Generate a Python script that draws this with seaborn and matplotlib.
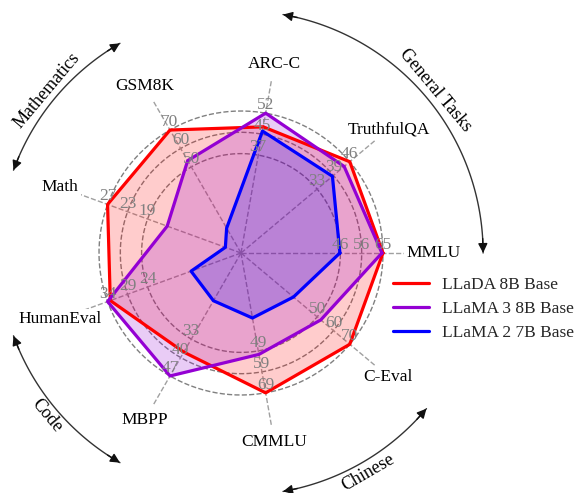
import numpy as np
import pandas as pd
import matplotlib
matplotlib.use("Agg")
import matplotlib.pyplot as plt
import seaborn as sns
from matplotlib.lines import Line2D

# ---------------- data ----------------
categories = ["MMLU", "TruthfulQA", "ARC-C", "GSM8K", "Math",
              "HumanEval", "MBPP", "CMMLU", "C-Eval"]
llada_8b = [65.9, 46.4, 47.9, 70.7, 27.3, 33.5, 38.2, 69.9, 70.5]
llama3_8b = [65.4, 44.0, 53.1, 53.1, 15.1, 34.2, 47.4, 50.7, 51.7]
llama2_7b = [45.9, 39.0, 46.3, 14.3, 3.2, 12.8, 18.4, 32.5, 34.0]
series_names = ["LLaDA 8B Base", "LLaMA 3 8B Base", "LLaMA 2 7B Base"]
axis_max = [65.9, 46.4, 53.1, 70.7, 27.3, 34.2, 47.4, 69.9, 70.5]
tick_labels = [["46", "56", "65"], ["33", "39", "46"], ["37", "45", "52"],
               ["50", "60", "70"], ["19", "23", "27"], ["24", "29", "34"],
               ["33", "40", "47"], ["49", "59", "69"], ["50", "60", "70"]]
ring_levels = [0.7, 0.85, 1.0]
groups = ["General Tasks", "Mathematics", "Code", "Chinese"]
group_members = [["MMLU", "TruthfulQA", "ARC-C"], ["GSM8K", "Math"],
                 ["HumanEval", "MBPP"], ["CMMLU", "C-Eval"]]
colors = ["#ff0000", "#9400d3", "#0000ff"]

# ---------------- style ----------------
sns.set_theme(style="white")
plt.rcParams["font.family"] = ["Liberation Serif", "DejaVu Serif"]

n = len(categories)
angles = [2 * np.pi * i / n for i in range(n)]

rows = []
for name, vals in zip(series_names, [llada_8b, llama3_8b, llama2_7b]):
    for k, i in enumerate(list(range(n)) + [0]):
        th = angles[i] if k < n else 2 * np.pi
        rows.append({"model": name, "theta": th, "r": vals[i] / axis_max[i]})
df = pd.DataFrame(rows)

fig = plt.figure(figsize=(5.77, 4.93), dpi=100)
R = 1.75
px1 = 142.0
cx, cy = 241.0, 493.0 - 253.0
half = R * px1
ax = fig.add_axes([(cx - half) / 577, (cy - half) / 493, 2 * half / 577, 2 * half / 493],
                  projection="polar")
ax.set_ylim(0, R)
ax.grid(False)
ax.spines["polar"].set_visible(False)
ax.set_xticks([])
ax.set_yticks([])
ax.set_facecolor("none")

# rings
th_full = np.linspace(0, 2 * np.pi, 400)
for lvl in ring_levels:
    ax.plot(th_full, np.full_like(th_full, lvl), ls="--", color="#808080", lw=1.0, zorder=1)
# spokes
for a in angles:
    ax.plot([a, a], [0, 1.24], ls="--", color="#a0a0a0", lw=1.0, zorder=1)

# data lines via seaborn
sns.lineplot(data=df, x="theta", y="r", hue="model", hue_order=series_names,
             palette=colors, sort=False, estimator=None, lw=2.3, ax=ax,
             legend=False, zorder=4)
for name, c in zip(series_names, colors):
    sub = df[df["model"] == name]
    ax.fill(sub["theta"].values, sub["r"].values, color=c, alpha=0.2, lw=0, zorder=2)
ax.set_xlabel("")
ax.set_ylabel("")

# tick labels
for a, labs in zip(angles, tick_labels):
    for lvl, lab in zip(ring_levels, labs):
        ax.text(a, lvl, lab, ha="center", va="bottom", color="#808080",
                fontsize=12.5, zorder=6)

# category labels
for a, cat in zip(angles, categories):
    ax.text(a, 1.355, cat, ha="center", va="center", fontsize=12.5, color="black",
            zorder=7, bbox=dict(fc="white", ec="none", pad=1.5))

# group arcs
r_arc = 1.705
for g, members in zip(groups, group_members):
    a0 = angles[categories.index(members[0])]
    a1 = angles[categories.index(members[-1])]
    th = np.linspace(a0, a1, 100)
    ax.plot(th, np.full_like(th, r_arc), color="#333333", lw=1.0, clip_on=False, zorder=3)
    for tip, back in [(a0, a0 + 0.06), (a1, a1 - 0.06)]:
        ax.annotate("", xy=(tip, r_arc), xytext=(back, r_arc),
                    arrowprops=dict(arrowstyle="-|>", color="#111111", lw=1.0,
                                    mutation_scale=14, shrinkA=0, shrinkB=0),
                    annotation_clip=False)
    mid = (a0 + a1) / 2
    rot = np.degrees(mid) - 90
    if rot > 90:
        rot -= 180
    if rot < -90:
        rot += 180
    ax.text(mid, 1.785, g, rotation=rot, rotation_mode="anchor", ha="center",
            va="center", fontsize=13, color="black")

handles = [Line2D([], [], color=c, lw=2.3) for c in colors]
fig.legend(handles, series_names, loc="center left", bbox_to_anchor=(0.669, 0.374),
           frameon=False, fontsize=12.5, handlelength=2.1, handletextpad=0.75,
           labelspacing=0.45, borderaxespad=0)

fig.savefig("out.png", dpi=100)
